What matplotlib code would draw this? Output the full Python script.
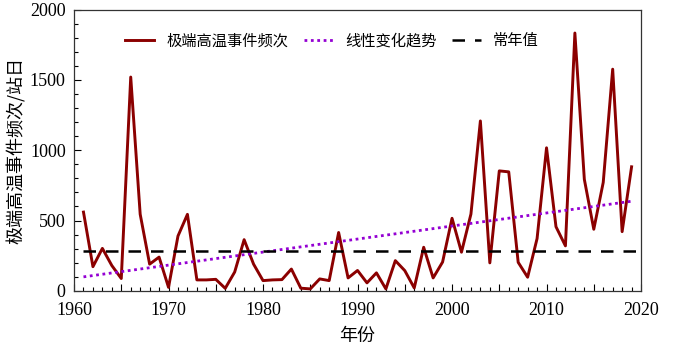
import numpy as np
import matplotlib
matplotlib.use("Agg")
import matplotlib.pyplot as plt
from matplotlib.ticker import MultipleLocator, FuncFormatter

# data
years = list(range(1961, 2020))
counts = [560, 172, 302, 180, 88, 1520, 545, 190, 240, 25,
          390, 544, 78, 78, 82, 18, 134, 364, 190, 73,
          78, 80, 155, 19, 14, 85, 73, 415, 92, 145,
          57, 128, 14, 215, 144, 21, 310, 92, 205, 516,
          275, 546, 1208, 199, 853, 846, 203, 97, 372, 1017,
          456, 320, 1833, 793, 438, 771, 1576, 421, 882]
normal_value = 280
normal_span = [1961, 2020]

label_line = "极端高温事件频次"
label_trend = "线性变化趋势"
label_normal = "常年值"

cjk = ["Noto Sans CJK SC", "DejaVu Sans"]
plt.rcParams["font.family"] = ["Liberation Serif"]

fig = plt.figure(figsize=(6.73, 3.53), dpi=100)
ax = fig.add_axes([0.110, 0.176, 0.8425, 0.797])

# linear trend of the series
k, b = np.polyfit(years, counts, 1)
trend = [k * y + b for y in years]

ax.plot(years, counts, color="#8b0000", lw=2.1, label=label_line)
ax.plot(years, trend, color="#9400d3", lw=2, ls=(0, (1, 1.3)), label=label_trend)
ax.plot(normal_span, [normal_value, normal_value], color="black", lw=1.8,
        ls=(0, (5, 4)), label=label_normal)

ax.set_xlim(1960, 2020)
ax.set_ylim(0, 2000)
ax.xaxis.set_major_locator(MultipleLocator(5))
ax.xaxis.set_minor_locator(MultipleLocator(1))
ax.xaxis.set_major_formatter(FuncFormatter(lambda v, p: "%d" % v if v % 10 == 0 else ""))
ax.yaxis.set_major_locator(MultipleLocator(500))
ax.yaxis.set_minor_locator(MultipleLocator(100))
ax.tick_params(which="both", direction="in", top=False, right=False, labelsize=13)
ax.tick_params(which="major", length=5, width=0.8)
ax.tick_params(which="minor", length=3, width=0.8)
ax.tick_params(axis="x", which="major", pad=8)
ax.tick_params(axis="y", which="major", pad=6)
for s in ax.spines.values():
    s.set_linewidth(0.9)
    s.set_color("#333333")

ax.set_xlabel("年份", family=cjk, fontsize=13, labelpad=6)
ax.set_ylabel("极端高温事件频次/站日", family=cjk, fontsize=13, labelpad=3)

ax.legend(loc="upper center", ncol=3, frameon=False, prop={"family": cjk, "size": 11},
          bbox_to_anchor=(0.455, 0.968), handlelength=1.9, handletextpad=0.8,
          columnspacing=1.0)

fig.savefig("out.png", dpi=100)
